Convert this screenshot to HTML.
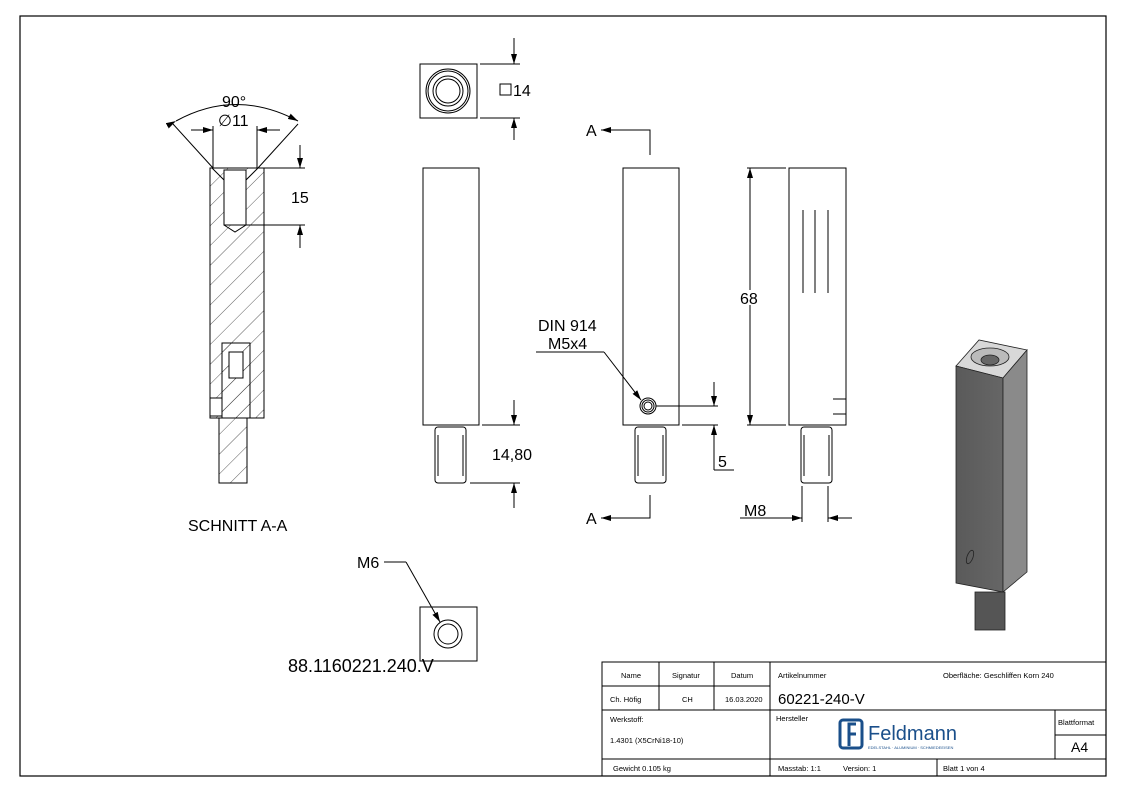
<!DOCTYPE html>
<html><head><meta charset="utf-8"><style>
html,body{margin:0;padding:0;background:#fff}
svg{display:block}
text{font-family:"Liberation Sans",sans-serif;fill:#000}
</style></head><body>
<svg width="1123" height="794" viewBox="0 0 1123 794" xmlns="http://www.w3.org/2000/svg">
<defs>
<marker id="ar" viewBox="0 0 10 6" refX="10" refY="3" markerWidth="10" markerHeight="6" markerUnits="userSpaceOnUse" orient="auto"><path d="M0,0 L10,3 L0,6z" fill="#000"/></marker>
<pattern id="h" width="14" height="14" patternUnits="userSpaceOnUse" patternTransform="rotate(45)"><line x1="0" y1="0" x2="0" y2="14" stroke="#333" stroke-width="0.8"/></pattern>
<linearGradient id="g3" x1="0" x2="1"><stop offset="0" stop-color="#5a5a5a"/><stop offset="1" stop-color="#666"/></linearGradient>
</defs>
<rect x="20" y="16" width="1086" height="760" fill="none" stroke="#000" stroke-width="1.2"/>

<g fill="none" stroke="#000" stroke-width="1">
<!-- Section A-A -->
<rect x="210" y="168" width="54" height="250" fill="url(#h)"/>
<rect x="224" y="170" width="22" height="55" fill="#fff"/>
<path d="M212,168 L224,180 M258,168 L246,180 M224,225 L235,232 L246,225"/>
<rect x="222" y="343" width="28" height="75" fill="url(#h)"/>
<rect x="229" y="352" width="14" height="26" fill="#fff"/>
<rect x="210" y="398" width="12" height="18" fill="#fff"/>
<rect x="219" y="418" width="28" height="65" fill="url(#h)"/>
<line x1="213" y1="168" x2="173" y2="124"/><line x1="258" y1="168" x2="298" y2="124"/>
<path d="M176,121 Q236,88 298,121" marker-start="url(#ar)" marker-end="url(#ar)"/>
<line x1="213" y1="168" x2="213" y2="126"/><line x1="257" y1="168" x2="257" y2="126"/>
<line x1="191" y1="130" x2="213" y2="130" marker-end="url(#ar)"/>
<line x1="280" y1="130" x2="257" y2="130" marker-end="url(#ar)"/>
<line x1="264" y1="168" x2="305" y2="168"/><line x1="246" y1="225" x2="305" y2="225"/>
<line x1="300" y1="145" x2="300" y2="168" marker-end="url(#ar)"/>
<line x1="300" y1="248" x2="300" y2="225" marker-end="url(#ar)"/>

<!-- top view -->
<rect x="420" y="64" width="57" height="54"/>
<circle cx="448" cy="91" r="22"/><circle cx="448" cy="91" r="20"/><circle cx="448" cy="91" r="15"/><circle cx="448" cy="91" r="12"/>
<line x1="480" y1="64" x2="520" y2="64"/><line x1="480" y1="118" x2="520" y2="118"/>
<line x1="514" y1="38" x2="514" y2="64" marker-end="url(#ar)"/>
<line x1="514" y1="140" x2="514" y2="118" marker-end="url(#ar)"/>
<rect x="500" y="84" width="11" height="11"/>

<!-- view 2 -->
<rect x="423" y="168" width="56" height="257"/>
<rect x="435" y="427" width="31" height="56" rx="3"/>
<line x1="438" y1="435" x2="438" y2="476"/><line x1="463" y1="435" x2="463" y2="476"/>
<line x1="482" y1="425" x2="520" y2="425"/><line x1="470" y1="483" x2="520" y2="483"/>
<line x1="514" y1="400" x2="514" y2="425" marker-end="url(#ar)"/>
<line x1="514" y1="508" x2="514" y2="483" marker-end="url(#ar)"/>

<!-- view 3 -->
<rect x="623" y="168" width="56" height="257"/>
<rect x="635" y="427" width="31" height="56" rx="3"/>
<line x1="638" y1="435" x2="638" y2="476"/><line x1="663" y1="435" x2="663" y2="476"/>
<circle cx="648" cy="406" r="8"/><circle cx="648" cy="406" r="6"/><circle cx="648" cy="406" r="4"/>
<line x1="656" y1="406" x2="718" y2="406"/><line x1="682" y1="425" x2="718" y2="425"/>
<line x1="714" y1="382" x2="714" y2="406" marker-end="url(#ar)"/>
<line x1="714" y1="470" x2="714" y2="425" marker-end="url(#ar)"/>
<line x1="714" y1="470" x2="734" y2="470"/>
<line x1="536" y1="352" x2="604" y2="352"/><line x1="604" y1="352" x2="641" y2="400" marker-end="url(#ar)"/>
<path d="M650,155 L650,130 L628,130"/><line x1="628" y1="130" x2="601" y2="130" marker-end="url(#ar)"/>
<path d="M650,495 L650,518 L628,518"/><line x1="628" y1="518" x2="601" y2="518" marker-end="url(#ar)"/>

<!-- view 4 -->
<rect x="789" y="168" width="57" height="257"/>
<rect x="801" y="427" width="31" height="56" rx="3"/>
<line x1="804" y1="435" x2="804" y2="476"/><line x1="829" y1="435" x2="829" y2="476"/>
<line x1="803" y1="210" x2="803" y2="293"/><line x1="815" y1="210" x2="815" y2="293"/><line x1="828" y1="210" x2="828" y2="293"/>
<line x1="833" y1="399" x2="846" y2="399"/><line x1="833" y1="414" x2="846" y2="414"/>
<line x1="747" y1="168" x2="786" y2="168"/><line x1="747" y1="425" x2="786" y2="425"/>
<line x1="750" y1="290" x2="750" y2="168" marker-end="url(#ar)"/>
<line x1="750" y1="305" x2="750" y2="425" marker-end="url(#ar)"/>
<line x1="802" y1="486" x2="802" y2="522"/><line x1="828" y1="486" x2="828" y2="522"/>
<line x1="740" y1="518" x2="802" y2="518" marker-end="url(#ar)"/>
<line x1="852" y1="518" x2="828" y2="518" marker-end="url(#ar)"/>

<!-- bottom view -->
<rect x="420" y="607" width="57" height="54"/>
<circle cx="448" cy="634" r="14"/><circle cx="448" cy="634" r="10"/>
<line x1="384" y1="562" x2="406" y2="562"/><line x1="406" y1="562" x2="440" y2="622" marker-end="url(#ar)"/>
</g>

<!-- 3D -->
<g stroke="#222" stroke-width="0.8">
<polygon points="956,366 979,340 1027,350 1003,378" fill="#d8d8d8"/>
<polygon points="956,366 1003,378 1003,592 956,583" fill="url(#g3)"/>
<polygon points="1003,378 1027,350 1027,572 1003,592" fill="#8a8a8a"/>
<ellipse cx="990" cy="357" rx="19" ry="9" fill="#bbb"/>
<ellipse cx="990" cy="360" rx="9" ry="5" fill="#666"/>
<rect x="975" y="592" width="30" height="38" fill="#555"/>
<ellipse cx="970" cy="557" rx="3" ry="7" fill="none" transform="rotate(20 970 557)"/>
</g>

<g font-size="16">
<text x="222" y="107">90°</text>
<text x="218" y="126">∅11</text>
<text x="291" y="203">15</text>
<text x="513" y="96">14</text>
<text x="492" y="460">14,80</text>
<text x="538" y="331">DIN 914</text>
<text x="548" y="349">M5x4</text>
<text x="718" y="467">5</text>
<text x="740" y="304">68</text>
<text x="744" y="516">M8</text>
<text x="586" y="136">A</text>
<text x="586" y="524">A</text>
<text x="188" y="531">SCHNITT A-A</text>
<text x="357" y="568">M6</text>
</g>
<text x="288" y="672" font-size="18">88.1160221.240.V</text>

<!-- title block -->
<g fill="none" stroke="#000" stroke-width="1">
<rect x="602" y="662" width="504" height="114"/>
<line x1="602" y1="686" x2="770" y2="686"/>
<line x1="602" y1="710" x2="1106" y2="710"/>
<line x1="602" y1="759" x2="1106" y2="759"/>
<line x1="659" y1="662" x2="659" y2="710"/>
<line x1="714" y1="662" x2="714" y2="710"/>
<line x1="770" y1="662" x2="770" y2="776"/>
<line x1="1055" y1="710" x2="1055" y2="759"/>
<line x1="1055" y1="735" x2="1106" y2="735"/>
<line x1="937" y1="759" x2="937" y2="776"/>
</g>
<g font-size="7.5" fill="#222">
<text x="621" y="678">Name</text><text x="672" y="678">Signatur</text><text x="731" y="678">Datum</text>
<text x="610" y="702">Ch. Höfig</text><text x="682" y="702">CH</text><text x="725" y="702">16.03.2020</text>
<text x="778" y="678">Artikelnummer</text><text x="943" y="678">Oberfläche:  Geschliffen Korn 240</text>
<text x="610" y="722">Werkstoff:</text><text x="610" y="743">1.4301 (X5CrNi18-10)</text>
<text x="776" y="721">Hersteller</text><text x="1058" y="725">Blattformat</text>
<text x="613" y="771">Gewicht 0.105 kg</text>
<text x="778" y="771">Masstab: 1:1</text><text x="843" y="771">Version: 1</text>
<text x="943" y="771">Blatt 1 von 4</text>
</g>
<text x="778" y="704" font-size="15">60221-240-V</text>
<text x="1071" y="752" font-size="14">A4</text>
<g stroke="#1a4f8a" stroke-width="3" fill="none">
<rect x="840" y="720" width="22" height="28" rx="3"/>
<path d="M856,724 L849,724 L849,746 M849,734 L856,734"/>
</g>
<text x="868" y="740" font-size="20" fill="#1a4f8a" style="fill:#1a4f8a">Feldmann</text>
<text x="868" y="749" font-size="4" style="fill:#1a4f8a">EDELSTAHL · ALUMINIUM · SCHMIEDEEISEN</text>
</svg>
</body></html>
